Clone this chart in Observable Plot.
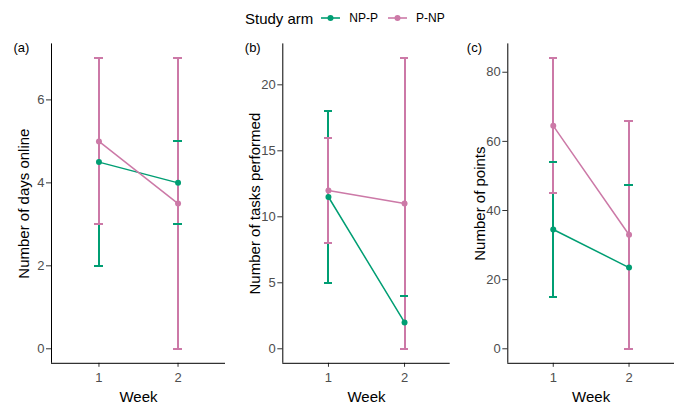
<!DOCTYPE html>
<html><head><meta charset="utf-8">
<script src="https://cdn.jsdelivr.net/npm/d3@7"></script>
<script src="https://cdn.jsdelivr.net/npm/@observablehq/plot@0.6"></script>
<style>
body{margin:0;background:#fff;font-family:Arial,"Liberation Sans",sans-serif;}
#wrap{position:relative;width:675px;height:407px;overflow:hidden;}
#wrap > svg{position:absolute;top:0;}
#legend{position:absolute;top:8px;left:245px;height:20px;display:flex;align-items:center;white-space:nowrap;color:#000;}
#legend .lt{font-size:15px;margin-right:8px;}
#legend .lab{font-size:12px;margin-left:9px;margin-right:10px;}
</style>
</head><body>
<div id="wrap"><div id="legend"></div></div>
<script>
// ---- data ----
const weeks = [1, 2];
const arms = ["NP-P", "P-NP"];
const armColors = ["#009E73", "#CC79A7"];

// (a) Number of days online
const days_NPP_mean = [4.5, 4.0];
const days_NPP_low  = [2, 3];
const days_NPP_high = [7, 5];
const days_PNP_mean = [5.0, 3.5];
const days_PNP_low  = [3, 0];
const days_PNP_high = [7, 7];
const days_ticks = [0, 2, 4, 6];

// (b) Number of tasks performed
const tasks_NPP_mean = [11.5, 2];
const tasks_NPP_low  = [5, 0];
const tasks_NPP_high = [18, 4];
const tasks_PNP_mean = [12, 11];
const tasks_PNP_low  = [8, 0];
const tasks_PNP_high = [16, 22];
const tasks_ticks = [0, 5, 10, 15, 20];

// (c) Number of points
const points_NPP_mean = [34.5, 23.5];
const points_NPP_low  = [15, 0];
const points_NPP_high = [54, 47.3];
const points_PNP_mean = [64.5, 33];
const points_PNP_low  = [45, 0];
const points_PNP_high = [84, 66];
const points_ticks = [0, 20, 40, 60, 80];

function rows(arm, mean, low, high) {
  return weeks.map((w, i) => ({week: w, arm, mean: mean[i], low: low[i], high: high[i]}));
}

const FONT = 'Arial, "Liberation Sans", sans-serif';

function panel({data, ticks, title, tag, left, width, ml, mr, tagDx}) {
  const lo = d3.min(data, d => d.low), hi = d3.max(data, d => d.high);
  const pad = (hi - lo) * 0.05;
  const y0 = lo - pad;
  const crisp = {shapeRendering: "crispEdges"};
  const svg = Plot.plot({
    width, height: 407,
    marginLeft: ml, marginRight: mr, marginTop: 43.4, marginBottom: 44.2,
    style: {fontFamily: FONT, background: "transparent", overflow: "visible"},
    x: {domain: [0.4, 2.6]},
    y: {domain: [y0, hi + pad]},
    color: {domain: arms, range: armColors},
    marks: [
      Plot.axisX({ticks: weeks, tickSize: 4, tickPadding: 5, fontSize: 13, tickFormat: d => String(d), label: null, fill: "#4D4D4D", stroke: "#333"}),
      Plot.axisY({ticks, tickSize: 5, tickPadding: 2, fontSize: 13, label: null, fill: "#4D4D4D", stroke: "#333"}),
      Plot.ruleX([0.4], {stroke: "#000", strokeWidth: 1}),
      Plot.ruleY([y0], {stroke: "#000", strokeWidth: 1}),
      Plot.ruleX(data, {x: "week", y1: "low", y2: "high", stroke: "arm", strokeWidth: 2, ...crisp}),
      Plot.ruleY(data, {y: "low", x1: d => d.week - 0.055, x2: d => d.week + 0.055, stroke: "arm", strokeWidth: 2, ...crisp}),
      Plot.ruleY(data, {y: "high", x1: d => d.week - 0.055, x2: d => d.week + 0.055, stroke: "arm", strokeWidth: 2, ...crisp}),
      Plot.line(data, {x: "week", y: "mean", stroke: "arm", z: "arm", strokeWidth: 1.5}),
      Plot.dot(data, {x: "week", y: "mean", fill: "arm", r: 3}),
      Plot.text([title], {text: d => d, frameAnchor: "left", rotate: -90, dx: -27.5, fontSize: 15, textAnchor: "middle", lineAnchor: "middle", fill: "#000"}),
      Plot.text(["Week"], {text: d => d, frameAnchor: "bottom", dy: 34, fontSize: 15, textAnchor: "middle", lineAnchor: "middle", fill: "#000"}),
      Plot.text([tag], {text: d => d, frameAnchor: "top-left", dx: tagDx, dy: 4, fontSize: 13, textAnchor: "start", lineAnchor: "middle", fill: "#000"})
    ]
  });
  svg.style.left = left + "px";
  return svg;
}

const wrap = document.getElementById("wrap");
wrap.appendChild(panel({
  data: [...rows("NP-P", days_NPP_mean, days_NPP_low, days_NPP_high), ...rows("P-NP", days_PNP_mean, days_PNP_low, days_PNP_high)],
  ticks: days_ticks, title: "Number of days online", tag: "(a)", left: 0, width: 226, ml: 51, mr: 1, tagDx: -38
}));
wrap.appendChild(panel({
  data: [...rows("NP-P", tasks_NPP_mean, tasks_NPP_low, tasks_NPP_high), ...rows("P-NP", tasks_PNP_mean, tasks_PNP_low, tasks_PNP_high)],
  ticks: tasks_ticks, title: "Number of tasks performed", tag: "(b)", left: 226, width: 224, ml: 56.3, mr: 0.3, tagDx: -38
}));
wrap.appendChild(panel({
  data: [...rows("NP-P", points_NPP_mean, points_NPP_low, points_NPP_high), ...rows("P-NP", points_PNP_mean, points_PNP_low, points_PNP_high)],
  ticks: points_ticks, title: "Number of points", tag: "(c)", left: 450, width: 225, ml: 57.3, mr: 1, tagDx: -41
}));

// legend
const legend = document.getElementById("legend");
wrap.appendChild(legend);
const lt = document.createElement("span");
lt.className = "lt"; lt.textContent = "Study arm";
legend.appendChild(lt);
arms.forEach((a, i) => {
  const ns = "http://www.w3.org/2000/svg";
  const k = document.createElementNS(ns, "svg");
  k.setAttribute("width", 19); k.setAttribute("height", 10);
  const l = document.createElementNS(ns, "line");
  l.setAttribute("x1", 0); l.setAttribute("x2", 19); l.setAttribute("y1", 5); l.setAttribute("y2", 5);
  l.setAttribute("stroke", armColors[i]); l.setAttribute("stroke-width", 1.6);
  const c = document.createElementNS(ns, "circle");
  c.setAttribute("cx", 9.5); c.setAttribute("cy", 5); c.setAttribute("r", 3); c.setAttribute("fill", armColors[i]);
  k.appendChild(l); k.appendChild(c);
  legend.appendChild(k);
  const s = document.createElement("span");
  s.className = "lab"; s.textContent = a;
  legend.appendChild(s);
});
</script>
</body></html>
